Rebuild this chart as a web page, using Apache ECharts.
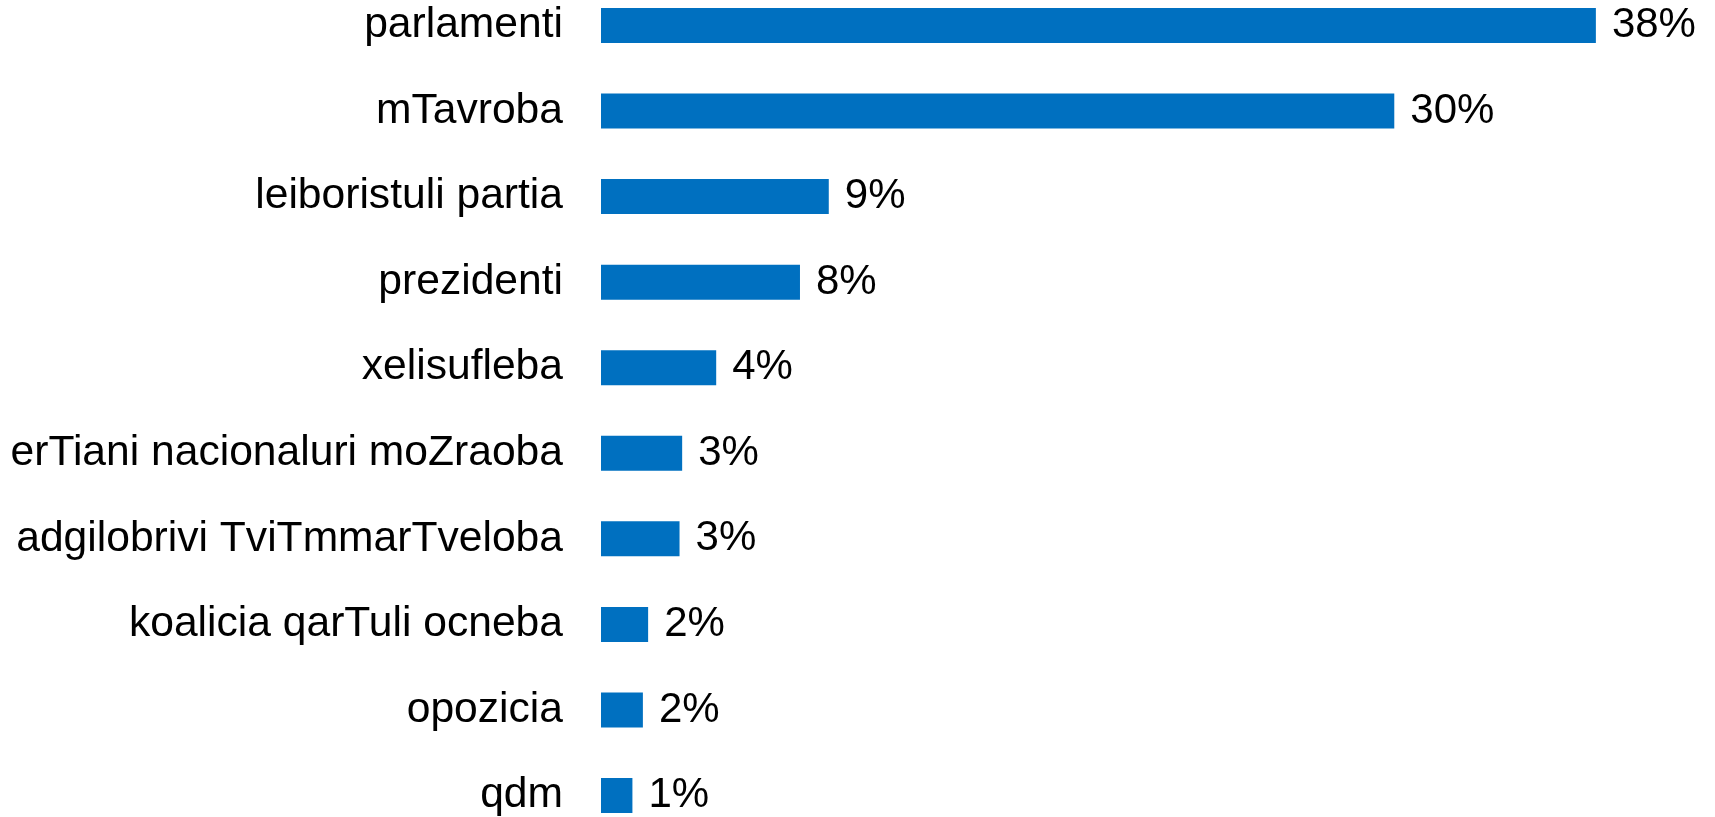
<!DOCTYPE html>
<html>
<head>
<meta charset="utf-8">
<script src="https://cdn.jsdelivr.net/npm/echarts@6/dist/echarts.min.js"></script>
<style>
html,body{margin:0;padding:0;background:#fff;}
#chart{width:1715px;height:817px;}
</style>
</head>
<body>
<div id="chart"></div>
<script>
const categories = [
  "parlamenti",
  "mTavroba",
  "leiboristuli partia",
  "prezidenti",
  "xelisufleba",
  "erTiani nacionaluri moZraoba",
  "adgilobrivi TviTmmarTveloba",
  "koalicia qarTuli ocneba",
  "opozicia",
  "qdm"
];
const values = [38.0, 30.3, 8.7, 7.6, 4.4, 3.1, 3.0, 1.8, 1.6, 1.2];

const chart = echarts.init(document.getElementById('chart'));
chart.setOption({
  animation: false,
  backgroundColor: '#ffffff',
  grid: { left: 601, top: 25.5, width: 1099.6, height: 770, containLabel: false },
  xAxis: {
    type: 'value', min: 0, max: 42,
    show: false
  },
  yAxis: {
    type: 'category',
    data: categories,
    inverse: true,
    boundaryGap: false,
    axisLine: { show: false },
    axisTick: { show: false },
    splitLine: { show: false },
    axisLabel: {
      color: '#000000',
      fontSize: 42.6,
      fontFamily: '"Liberation Sans", Arial, sans-serif',
      margin: 38
    }
  },
  series: [{
    type: 'bar',
    data: values,
    barWidth: 35,
    itemStyle: { color: '#0070C0' },
    label: {
      show: true,
      position: 'right',
      distance: 16,
      color: '#000000',
      fontSize: 42,
      fontFamily: '"Liberation Sans", Arial, sans-serif',
      formatter: p => Math.round(p.value) + '%'
    }
  }]
});
</script>
</body>
</html>
